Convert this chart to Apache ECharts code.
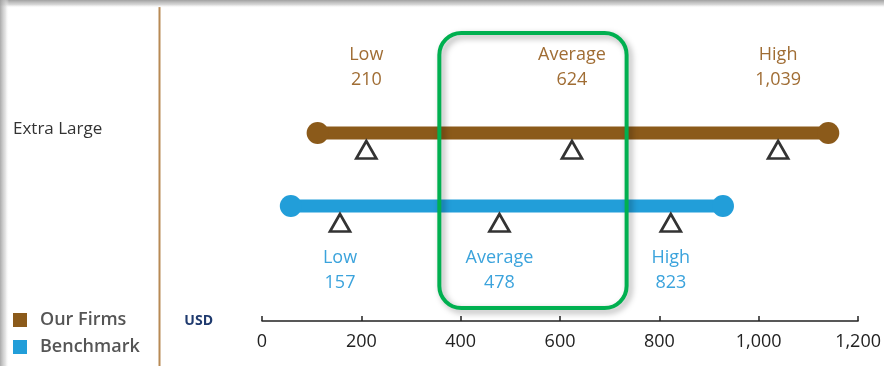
<!DOCTYPE html>
<html>
<head>
<meta charset="utf-8">
<script src="https://cdn.jsdelivr.net/npm/echarts@6/dist/echarts.min.js"></script>
<style>
  html, body { margin: 0; padding: 0; background: #fff; }
  #chart { width: 884px; height: 366px; }
</style>
</head>
<body>
<div id="chart"></div>
<script>
// Salary range comparison: our firms vs. the benchmark (USD)
const categories = ['Extra Large'];
const seriesNames = ['Our Firms', 'Benchmark'];
const statNames = ['Low', 'Average', 'High'];

// full extent of each range bar [min, max]
const ourFirmsRange = [112, 1140];
const benchmarkRange = [58, 928];

// Low, Average, High
const ourFirmsStats = [210, 624, 1039];
const benchmarkStats = [157, 478, 823];

// span of the highlighted band around the averages
const highlightRange = [357, 734];

const xMin = 0, xMax = 1200, xStep = 200;

const FONT = "'Segoe UI', 'Open Sans', 'Noto Sans', sans-serif";
const BROWN = '#8B5A1A';
const BLUE = '#229ED9';

const fmt = v => Number(v).toLocaleString('en-US');

// rowOffset: vertical shift of the bar from the category centre
// labelAbove: draw the stat labels above (true) or below the bar
function rangeRenderer(rowOffset, labelAbove, color, labelColor) {
  return function (params, api) {
    const cat = api.value(5);
    const cy = api.coord([0, cat])[1] + rowOffset;
    const x0 = api.coord([api.value(0), cat])[0];
    const x1 = api.coord([api.value(1), cat])[0];
    const children = [
      { type: 'line', shape: { x1: x0, y1: cy, x2: x1, y2: cy },
        style: { stroke: color, lineWidth: 13 } },
      { type: 'circle', shape: { cx: x0, cy: cy, r: 11 }, style: { fill: color } },
      { type: 'circle', shape: { cx: x1, cy: cy, r: 11 }, style: { fill: color } }
    ];
    for (let i = 0; i < 3; i++) {
      const v = api.value(2 + i);
      const x = api.coord([v, cat])[0];
      const top = cy + 8;
      children.push({
        type: 'polygon',
        shape: { points: [[x, top], [x - 10, top + 17.5], [x + 10, top + 17.5]] },
        style: { fill: '#fff', stroke: '#333', lineWidth: 2.7, lineJoin: 'miter' }
      });
      children.push({
        type: 'text',
        style: {
          x: x,
          y: labelAbove ? cy - 91 : cy + 39,
          text: statNames[i] + '\n' + fmt(v),
          fill: labelColor,
          font: '18px ' + FONT,
          lineHeight: 25,
          align: 'center',
          verticalAlign: 'top'
        }
      });
    }
    return { type: 'group', children: children };
  };
}

const chart = echarts.init(document.getElementById('chart'), null, { renderer: 'canvas' });

const option = {
  animation: false,
  backgroundColor: '#fff',
  textStyle: { fontFamily: FONT },
  // the category band is centred on the "Extra Large" label; the value axis is pushed down below it
  grid: { left: 262, right: 24, top: 7, bottom: 115 },
  legend: {
    orient: 'vertical',
    left: 13,
    top: 311,
    padding: 0,
    icon: 'rect',
    itemWidth: 14,
    itemHeight: 14,
    itemGap: 9,
    data: seriesNames,
    textStyle: { fontSize: 18, fontWeight: 600, color: '#555', lineHeight: 14, padding: [0, 0, 0, 8] }
  },
  xAxis: {
    type: 'value',
    min: xMin,
    max: xMax,
    interval: xStep,
    offset: 70,
    name: 'USD',
    nameLocation: 'start',
    nameGap: 49,
    nameTextStyle: { fontSize: 14, fontWeight: 'bold', color: '#1F3A6E', verticalAlign: 'middle' },
    axisLine: { show: true, lineStyle: { color: '#222', width: 1.5 } },
    axisTick: { show: true, inside: true, length: 5, lineStyle: { color: '#222', width: 1.5 } },
    splitLine: { show: false },
    axisLabel: { fontSize: 18, color: '#222', margin: 12, formatter: fmt }
  },
  yAxis: {
    type: 'category',
    data: categories,
    axisLine: { show: false },
    axisTick: { show: false },
    splitLine: { show: false },
    axisLabel: { align: 'left', margin: 249, fontSize: 17, color: '#333' }
  },
  series: [
    {
      name: seriesNames[0],
      type: 'custom',
      itemStyle: { color: BROWN },
      encode: { x: [0, 1, 2, 3, 4], y: 5 },
      renderItem: rangeRenderer(4, true, BROWN, '#A06D34'),
      data: categories.map((c, i) => [ourFirmsRange[0], ourFirmsRange[1], ...ourFirmsStats, i])
    },
    {
      name: seriesNames[1],
      type: 'custom',
      itemStyle: { color: BLUE },
      encode: { x: [0, 1, 2, 3, 4], y: 5 },
      renderItem: rangeRenderer(77, false, BLUE, '#3BA3DC'),
      data: categories.map((c, i) => [benchmarkRange[0], benchmarkRange[1], ...benchmarkStats, i])
    }
  ]
};

chart.setOption(option);

// frame shading, separator and the highlight box around the averages
const hx0 = chart.convertToPixel({ xAxisIndex: 0 }, highlightRange[0]);
const hx1 = chart.convertToPixel({ xAxisIndex: 0 }, highlightRange[1]);

chart.setOption({
  graphic: [
    {
      type: 'rect', z: 100,
      shape: { x: 0, y: 0, width: 884, height: 8 },
      style: { fill: new echarts.graphic.LinearGradient(0, 0, 0, 1, [
        { offset: 0, color: 'rgba(150,150,150,0.9)' },
        { offset: 0.6, color: 'rgba(200,200,200,0.7)' },
        { offset: 1, color: 'rgba(255,255,255,0)' }
      ]) }
    },
    {
      type: 'rect', z: 100,
      shape: { x: 0, y: 0, width: 9, height: 366 },
      style: { fill: new echarts.graphic.LinearGradient(0, 0, 1, 0, [
        { offset: 0, color: 'rgba(160,160,160,0.9)' },
        { offset: 0.6, color: 'rgba(210,210,210,0.6)' },
        { offset: 1, color: 'rgba(255,255,255,0)' }
      ]) }
    },
    {
      type: 'line', z: 50,
      shape: { x1: 159.5, y1: 7, x2: 159.5, y2: 366 },
      style: { stroke: '#B88A55', lineWidth: 2 }
    },
    {
      type: 'rect', z: 60,
      shape: { x: hx0, y: 33, width: hx1 - hx0, height: 275, r: 22 },
      style: {
        fill: 'none', stroke: '#00B050', lineWidth: 4,
        shadowBlur: 6, shadowColor: 'rgba(0,0,0,0.35)', shadowOffsetX: 3, shadowOffsetY: 3
      }
    }
  ]
});
</script>
</body>
</html>
